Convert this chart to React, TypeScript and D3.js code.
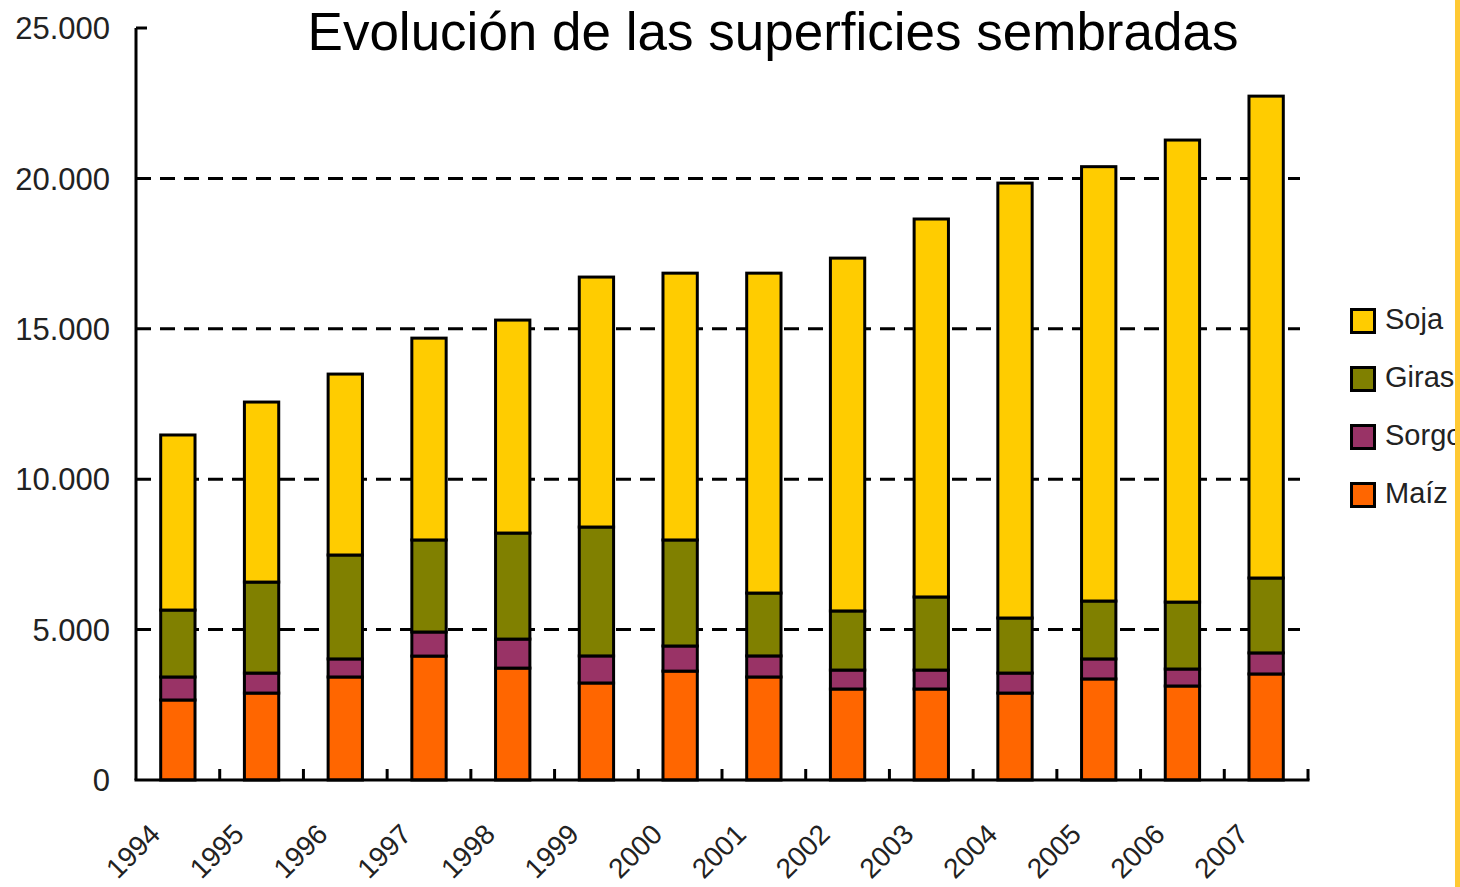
import React from "react";
import * as d3 from "d3";

const years = ["1994","1995","1996","1997","1998","1999","2000","2001","2002","2003","2004","2005","2006","2007"];
const maiz = [2660, 2890, 3425, 4120, 3720, 3225, 3620, 3425, 3025, 3025, 2890, 3360, 3125, 3525];
const sorgo = [765, 665, 600, 800, 965, 900, 835, 700, 630, 630, 665, 665, 565, 700];
const girasol = [2225, 3025, 3455, 3060, 3525, 4285, 3525, 2090, 1965, 2430, 1830, 1925, 2225, 2490];
const soja = [5820, 5985, 6015, 6710, 7080, 8310, 8870, 10635, 11730, 12565, 14460, 14440, 15360, 16020];
const yTicks = [0, 5000, 10000, 15000, 20000, 25000];
const yTickLabels = ["0", "5.000", "10.000", "15.000", "20.000", "25.000"];
const seriesNames = ["Maíz", "Sorgo", "Girasol", "Soja"];
const seriesColors = ["#FF6600", "#993366", "#808000", "#FFCC00"];
const title = "Evolución de las superficies sembradas";

const W = 1460, H = 887;
const FONT = "'Liberation Sans', Arial, sans-serif";

export default function App() {
  const x0 = 136, x1 = 1308, yTop = 28, yBot = 780;
  const x = d3.scaleBand<string>().domain(years).range([x0, x1]).padding(0);
  const y = d3.scaleLinear().domain([0, 25000]).range([yBot, yTop]);
  const rows = years.map((yr, i) => ({ year: yr, "Maíz": maiz[i], Sorgo: sorgo[i], Girasol: girasol[i], Soja: soja[i] }));
  const stack = d3.stack<any>().keys(seriesNames)(rows);
  const bw = x.bandwidth() * 0.41;
  const legendOrder = [3, 2, 1, 0];

  return (
    <svg width={W} height={H} style={{ position: "absolute", left: 0, top: 0, background: "#fff" }} fontFamily={FONT}>
      <defs>
        <clipPath id="clipR"><rect x={0} y={0} width={1455} height={H} /></clipPath>
      </defs>
      <rect x={0} y={0} width={W} height={H} fill="#fff" />
      {/* gridlines */}
      {yTicks.filter(v => v > 0 && v < 25000).map(v => (
        <line key={v} x1={x0} x2={1300} y1={y(v)} y2={y(v)} stroke="#000" strokeWidth={3} strokeDasharray="15 9" />
      ))}
      {/* bars */}
      {stack.map((s, si) => (
        <g key={si}>
          {s.map((d, i) => {
            const cx = (x(years[i]) as number) + x.bandwidth() / 2;
            return (
              <rect key={i} x={cx - bw / 2} y={y(d[1])} width={bw} height={y(d[0]) - y(d[1])}
                fill={seriesColors[si]} stroke="#000" strokeWidth={3} />
            );
          })}
        </g>
      ))}
      {/* axes */}
      <line x1={x0} x2={x0} y1={yTop} y2={yBot} stroke="#000" strokeWidth={3} />
      <line x1={x0} x2={x0 + 11} y1={yTop} y2={yTop} stroke="#000" strokeWidth={3} />
      <line x1={x0 - 1.5} x2={x1 + 1.5} y1={yBot} y2={yBot} stroke="#000" strokeWidth={3} />
      {years.map((yr) => {
        const tx = (x(yr) as number) + x.bandwidth();
        return <line key={yr} x1={tx} x2={tx} y1={yBot} y2={yBot - 11} stroke="#000" strokeWidth={3} />;
      })}
      {/* y labels */}
      {yTicks.map((v, i) => (
        <text key={v} x={110} y={y(v)} dy="0.36em" textAnchor="end" fontSize={31} fill="#222">{yTickLabels[i]}</text>
      ))}
      {/* x labels */}
      {years.map(yr => {
        const cx = (x(yr) as number) + x.bandwidth() / 2;
        const ax = cx - 16, ay = 836;
        return (
          <text key={yr} x={ax} y={ay} textAnchor="end" fontSize={28} fill="#222"
            transform={`rotate(-45 ${ax} ${ay})`}>{yr}</text>
        );
      })}
      {/* title */}
      <text x={773} y={50} textAnchor="middle" fontSize={53} fill="#000">{title}</text>
      {/* legend */}
      <g clipPath="url(#clipR)">
        {legendOrder.map((si, k) => {
          const ly = 321 + k * 58;
          return (
            <g key={si}>
              <rect x={1351.5} y={ly - 11.5} width={23} height={23} fill={seriesColors[si]} stroke="#000" strokeWidth={3} />
              <text x={1385} y={ly + 8} fontSize={29} fill="#222">{seriesNames[si]}</text>
            </g>
          );
        })}
      </g>
      <rect x={1455} y={0} width={5} height={H} fill="#FFC933" />
    </svg>
  );
}
